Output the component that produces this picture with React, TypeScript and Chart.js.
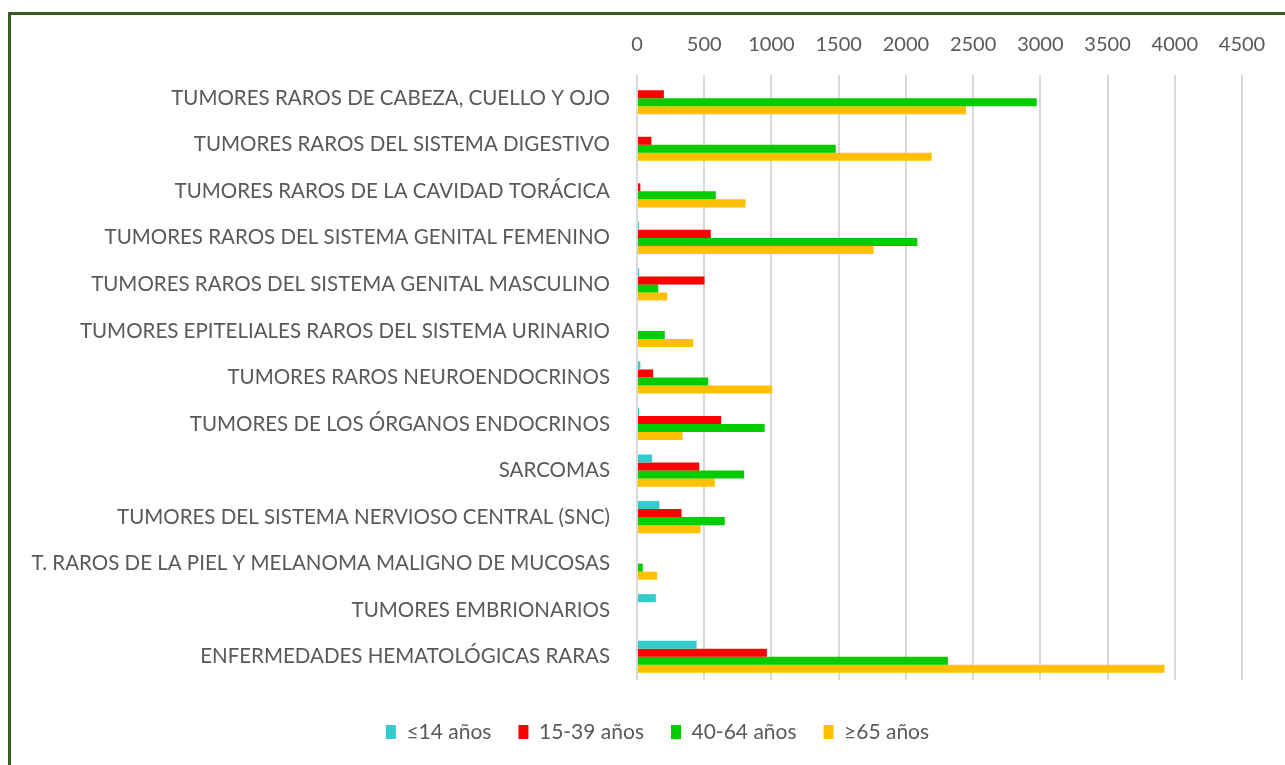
import React, { useEffect, useRef } from "react";
import { Chart, registerables } from "chart.js";

Chart.register(...registerables);

const categories = [
  "TUMORES RAROS DE CABEZA, CUELLO Y OJO",
  "TUMORES RAROS DEL SISTEMA DIGESTIVO",
  "TUMORES RAROS DE LA CAVIDAD TORÁCICA",
  "TUMORES RAROS DEL SISTEMA GENITAL FEMENINO",
  "TUMORES RAROS DEL SISTEMA GENITAL MASCULINO",
  "TUMORES EPITELIALES RAROS DEL SISTEMA URINARIO",
  "TUMORES RAROS NEUROENDOCRINOS",
  "TUMORES DE LOS ÓRGANOS ENDOCRINOS",
  "SARCOMAS",
  "TUMORES DEL SISTEMA NERVIOSO CENTRAL (SNC)",
  "T. RAROS DE LA PIEL Y MELANOMA MALIGNO DE MUCOSAS",
  "TUMORES EMBRIONARIOS",
  "ENFERMEDADES HEMATOLÓGICAS RARAS",
];

const seriesLabels = ["≤14 años", "15-39 años", "40-64 años", "≥65 años"];

const age0to14 = [0, 0, 0, 15, 15, 0, 25, 15, 113, 167, 0, 140, 443];
const age15to39 = [200, 107, 25, 549, 502, 0, 120, 626, 463, 331, 0, 0, 966];
const age40to64 = [2973, 1478, 586, 2085, 158, 207, 530, 949, 797, 653, 43, 0, 2312];
const age65plus = [2447, 2192, 807, 1760, 225, 418, 1006, 339, 579, 472, 150, 0, 3924];

const seriesColors = ["#33CCCC", "#FF0000", "#00CC00", "#FFC000"];

const xTicksMin = 0;
const xTicksMax = 4500;
const xTicksStep = 500;

const FONT = "Lato, 'Open Sans', sans-serif";
const TEXT = "#595959";

const legendShift = {
  id: "legendShift",
  afterLayout(chart: any) {
    const lg = chart.legend;
    if (lg) {
      lg.left += 36.5;
      lg.right += 36.5;
    }
  },
};

export default function App() {
  const canvasRef = useRef<HTMLCanvasElement | null>(null);

  useEffect(() => {
    const canvas = canvasRef.current;
    if (!canvas) return;
    const allSeries = [age0to14, age15to39, age40to64, age65plus];
    const chart = new Chart(canvas, {
      type: "bar",
      data: {
        labels: categories,
        datasets: allSeries.map((data, i) => ({
          label: seriesLabels[i],
          data,
          backgroundColor: seriesColors[i],
          borderWidth: 0,
          barPercentage: 1,
          categoryPercentage: 0.69,
        })),
      },
      plugins: [legendShift],
      options: {
        indexAxis: "y",
        animation: false,
        responsive: false,
        maintainAspectRatio: false,
        layout: { padding: { left: 0, right: 43, top: 0, bottom: 12.5 } },
        scales: {
          x: {
            position: "top",
            min: xTicksMin,
            max: xTicksMax,
            ticks: {
              stepSize: xTicksStep,
              color: TEXT,
              font: { family: FONT, size: 20 },
              padding: 18,
              maxRotation: 0,
              callback: (v: any) => String(v),
            },
            grid: { color: "#d9d9d9", lineWidth: 2, drawTicks: false },
            border: { display: false },
            afterFit: (scale: any) => {
              scale.height = 75;
            },
          },
          y: {
            ticks: {
              color: TEXT,
              font: { family: FONT, size: 20.5 },
              padding: 27,
              autoSkip: false,
            },
            grid: { display: false, drawTicks: false },
            border: { display: false },
            afterFit: (scale: any) => {
              scale.width = 637;
            },
          },
        },
        plugins: {
          legend: {
            position: "bottom",
            title: {
              display: true,
              text: "",
              font: { size: 10, lineHeight: 1.2 },
              padding: { top: 0, bottom: 2.5 },
            },
            labels: {
              boxWidth: 10,
              boxHeight: 14,
              padding: 27,
              color: TEXT,
              font: { family: FONT, size: 21 },
            },
          },
          tooltip: { enabled: false },
        },
      },
    });
    return () => chart.destroy();
  }, []);

  return (
    <div
      style={{
        position: "fixed",
        left: 0,
        top: 0,
        width: 1285,
        height: 765,
        background: "#ffffff",
        overflow: "hidden",
      }}
    >
      <div
        style={{
          position: "absolute",
          left: 8,
          top: 12,
          width: 1400,
          height: 900,
          borderLeft: "3px solid #3b5a29",
          borderTop: "3px solid #3b5a29",
          boxSizing: "border-box",
        }}
      />
      <canvas
        ref={canvasRef}
        width={1285}
        height={765}
        style={{ position: "absolute", left: 0, top: 0, width: 1285, height: 765 }}
      />
    </div>
  );
}
